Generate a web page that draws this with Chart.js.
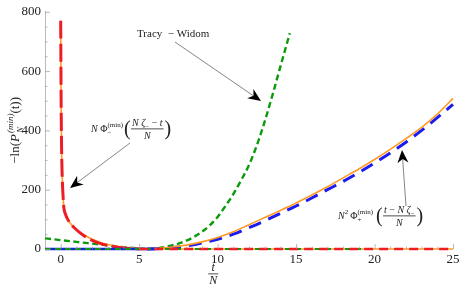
<!DOCTYPE html>
<html>
<head>
<meta charset="utf-8">
<script src="https://cdn.jsdelivr.net/npm/chart.js@4.4.0/dist/chart.umd.min.js"></script>
<style>body{margin:0;background:#fff}</style>
</head>
<body>
<canvas id="myChart" width="463" height="294"></canvas>
<script>
// exact -ln P (orange, solid)
const exactX = [0, 0.03, 0.06, 0.1, 0.15, 0.2, 0.3, 0.45, 0.65, 0.9, 1.2, 1.5, 2, 2.5, 3, 3.5, 4, 4.5, 5, 5.5, 6, 6.5, 7, 8, 9, 10, 11, 12, 13, 14, 15, 16, 17, 18, 19, 20, 21, 22, 23, 24, 25]
const exactY = [770, 480, 330, 240, 180, 140, 118, 100, 84, 70, 57, 47, 33, 23, 15, 10, 6, 3, 1.2, 0.5, 1.5, 3, 6, 13, 24, 39, 58, 82, 106, 130, 155, 182, 210, 240, 270, 302, 336, 372, 410, 455, 508]

// N Phi_- (red, dashed)
const minusX = [0, 0.03, 0.06, 0.1, 0.15, 0.2, 0.3, 0.45, 0.65, 0.9, 1.2, 1.5, 2, 2.5, 3, 3.5, 4, 4.5, 5]
const minusY = [770, 480, 330, 240, 180, 140, 118, 100, 84, 70, 56, 44, 29, 19, 12, 7, 3.5, 1.5, 0.3]

// N^2 Phi_+ (blue, dashed)
const plusX = [5.5, 6, 7, 8, 9, 10, 11, 12, 13, 14, 15, 16, 17, 18, 19, 20, 21, 22, 23, 24, 25]
const plusY = [0, 0.5, 4, 10, 20, 33, 50, 72, 95, 120, 145, 172, 200, 228, 258, 290, 324, 360, 400, 443, 488]

// Tracy - Widom (green, dashed)
const twX = [-1, -0.5, 0, 1, 2, 3, 4, 5, 5.5, 6, 6.5, 7, 7.5, 8, 8.5, 9, 9.5, 10, 10.5, 11, 11.5, 12, 12.5, 13, 13.5, 14, 14.6]
const twY = [36, 33, 30, 24, 18, 12, 6, 2, 0.5, 1.5, 5, 11, 18, 28, 41, 58, 80, 108, 145, 185, 232, 283, 350, 430, 520, 615, 728]

// pieces lying on the t axis
const zeroBlueX = [-1, 6]
const zeroGreenX = [-1, 20]
const zeroRedX = [5, 25]
const zeroOrangeX = [6, 25]

const xTicks = [0, 5, 10, 15, 20, 25]
const yTicks = [0, 200, 400, 600, 800]

const pts = (xs, ys) => xs.map((x, i) => ({x: x, y: ys[i]}))
const zeros = xs => xs.map(x => ({x: x, y: 0}))

const SERIF = '"Liberation Serif", "DejaVu Serif", serif'
const ORANGE = '#ff9a24'
const RED = '#ee1c25'
const BLUE = '#1c1cf0'
const GREEN = '#0c9a0c'

const line = (data, color, width, dash, order) => ({
  data: data,
  borderColor: color,
  borderWidth: width,
  borderDash: dash,
  pointRadius: 0,
  fill: false,
  cubicInterpolationMode: 'monotone',
  clip: 6,
  order: order
})

// rich text: parts = [{t, f, dy}] or {sup, sub, f}
function partW(ctx, p) {
  if (p.sup !== undefined) {
    ctx.font = p.f
    return Math.max(ctx.measureText(p.sup).width, ctx.measureText(p.sub).width)
  }
  ctx.font = p.f
  return ctx.measureText(p.t).width + (p.gap || 0)
}
function partsW(ctx, parts) {
  return parts.reduce((s, p) => s + partW(ctx, p), 0)
}
function drawParts(ctx, x, y, parts) {
  ctx.textBaseline = 'alphabetic'
  ctx.textAlign = 'left'
  for (const p of parts) {
    ctx.font = p.f
    if (p.sup !== undefined) {
      ctx.fillText(p.sup, x, y + (p.supDy || -5))
      ctx.fillText(p.sub, x, y + (p.subDy || 3))
    } else {
      ctx.fillText(p.t, x, y + (p.dy || 0))
    }
    x += partW(ctx, p)
  }
  return x
}
function drawFrac(ctx, x, yLine, num, den) {
  const w = Math.max(partsW(ctx, num), partsW(ctx, den)) + 2
  drawParts(ctx, x + (w - partsW(ctx, num)) / 2, yLine - 3, num)
  drawParts(ctx, x + (w - partsW(ctx, den)) / 2, yLine + 10, den)
  ctx.fillRect(x, yLine - 0.5, w, 0.8)
  return x + w
}
function arrow(ctx, x1, y1, x2, y2) {
  const a = Math.atan2(y2 - y1, x2 - x1)
  const L = 13, W = 5.5
  ctx.strokeStyle = '#666'
  ctx.lineWidth = 0.8
  ctx.beginPath()
  ctx.moveTo(x1, y1)
  ctx.lineTo(x2 - Math.cos(a) * L * 0.7, y2 - Math.sin(a) * L * 0.7)
  ctx.stroke()
  ctx.save()
  ctx.translate(x2, y2)
  ctx.rotate(a)
  ctx.fillStyle = '#000'
  ctx.beginPath()
  ctx.moveTo(0, 0)
  ctx.lineTo(-L, -W)
  ctx.lineTo(-L * 0.7, 0)
  ctx.lineTo(-L, W)
  ctx.closePath()
  ctx.fill()
  ctx.restore()
}

const decor = {
  id: 'decor',
  afterDraw(chart) {
    const ctx = chart.ctx
    const sx = chart.scales.x, sy = chart.scales.y
    const X = v => sx.getPixelForValue(v), Y = v => sy.getPixelForValue(v)
    ctx.save()
    // ticks pointing into the plot
    ctx.strokeStyle = '#999'
    ctx.lineWidth = 0.7
    ctx.beginPath()
    for (let v = 0; v <= 800; v += 50) {
      const len = v % 200 === 0 ? 5 : 2.5
      ctx.moveTo(sx.left, Y(v) + 0.5); ctx.lineTo(sx.left + len, Y(v) + 0.5)
    }
    for (let v = 0; v <= 25; v += 1) {
      const len = v % 5 === 0 ? 5 : 2.5
      ctx.moveTo(X(v) + 0.5, sy.bottom); ctx.lineTo(X(v) + 0.5, sy.bottom - len)
    }
    ctx.stroke()

    ctx.fillStyle = '#222'
    const it = s => 'italic ' + s + 'px ' + SERIF
    const rm = s => s + 'px ' + SERIF

    // x title t/N
    drawFrac(ctx, X(9.4), 274, [{t: 't', f: it(12)}], [{t: 'N', f: it(12)}])

    // y title, rotated
    ctx.save()
    ctx.translate(15, Y(400))
    ctx.rotate(-Math.PI / 2)
    const yParts = [
      {t: '\u2212ln(', f: rm(13)},
      {t: 'P', f: it(13), gap: 1},
      {sup: '(min)', sub: 'N', f: it(9), supDy: -6, subDy: 4},
      {t: '(t))', f: rm(13)}
    ]
    drawParts(ctx, -partsW(ctx, yParts) / 2, 4, yParts)
    ctx.restore()

    // Tracy - Widom
    ctx.font = rm(11)
    ctx.fillText('Tracy  \u2212 Widom', 137, 37)
    arrow(ctx, 175, 42, 261, 101)

    // N Phi_-
    let x = drawParts(ctx, 91, 132, [
      {t: 'N ', f: it(10)},
      {t: '\u03a6', f: rm(10)},
      {sup: '(min)', sub: '\u2212', f: rm(7), supDy: -5, subDy: 3}
    ])
    ctx.font = rm(20)
    ctx.fillText('(', x + 1, 135)
    x = drawFrac(ctx, x + 8, 129, [
      {t: 'N ', f: it(10)}, {t: '\u03b6', f: it(10)}, {t: '\u2212', f: rm(7), dy: 3},
      {t: ' \u2212 ', f: rm(10)}, {t: 't', f: it(10)}
    ], [{t: 'N', f: it(10)}])
    ctx.font = rm(20)
    ctx.fillText(')', x + 1, 135)
    arrow(ctx, 130, 143, 70, 188)

    // N^2 Phi_+
    x = drawParts(ctx, 338, 219, [
      {t: 'N', f: it(10)}, {t: '2', f: rm(7), dy: -5, gap: 2},
      {t: '\u03a6', f: rm(10)},
      {sup: '(min)', sub: '+', f: rm(7), supDy: -5, subDy: 3}
    ])
    ctx.font = rm(20)
    ctx.fillText('(', x + 3, 222)
    x = drawFrac(ctx, x + 10, 216, [
      {t: 't', f: it(10)}, {t: ' \u2212 ', f: rm(10)},
      {t: 'N ', f: it(10)}, {t: '\u03b6', f: it(10)}, {t: '\u2212', f: rm(7), dy: 3}
    ], [{t: 'N', f: it(10)}])
    ctx.font = rm(20)
    ctx.fillText(')', x + 1, 222)
    arrow(ctx, 406, 206, 402, 150)
    ctx.restore()
  }
}

const ctx = document.getElementById('myChart')
new Chart(ctx, {
  type: 'line',
  data: {
    datasets: [
      line(zeros(zeroRedX), RED, 2.5, [9, 6], 1),
      line(zeros(zeroGreenX), GREEN, 2.2, [6, 4], 2),
      line(zeros(zeroOrangeX), ORANGE, 1.6, [], 3),
      line(zeros(zeroBlueX), BLUE, 2.5, [], 4),
      line(pts(minusX, minusY), RED, 3, [18, 5], 5),
      line(pts(exactX, exactY), ORANGE, 1.6, [], 6),
      line(pts(plusX, plusY), BLUE, 3, [13, 8], 7),
      line(pts(twX, twY), GREEN, 2.4, [6, 3.5], 8)
    ]
  },
  options: {
    responsive: false,
    animation: false,
    events: [],
    layout: {padding: {top: 5, right: 10, left: 0, bottom: 0}},
    plugins: {legend: {display: false}, tooltip: {enabled: false}},
    scales: {
      x: {
        type: 'linear',
        min: -1,
        max: 25,
        afterBuildTicks: s => { s.ticks = xTicks.map(v => ({value: v})) },
        afterFit: s => { s.height = 45 },
        grid: {display: false, drawTicks: false},
        border: {display: false},
        ticks: {color: '#222', padding: 3, maxRotation: 0, font: {family: SERIF, size: 13}}
      },
      y: {
        min: 0,
        max: 800,
        afterBuildTicks: s => { s.ticks = yTicks.map(v => ({value: v})) },
        afterFit: s => { s.width = 45 },
        grid: {display: false, drawTicks: false},
        border: {display: true, color: '#aaa', width: 0.8},
        ticks: {color: '#222', padding: 4, font: {family: SERIF, size: 13}}
      }
    }
  },
  plugins: [decor]
})
</script>
</body>
</html>
